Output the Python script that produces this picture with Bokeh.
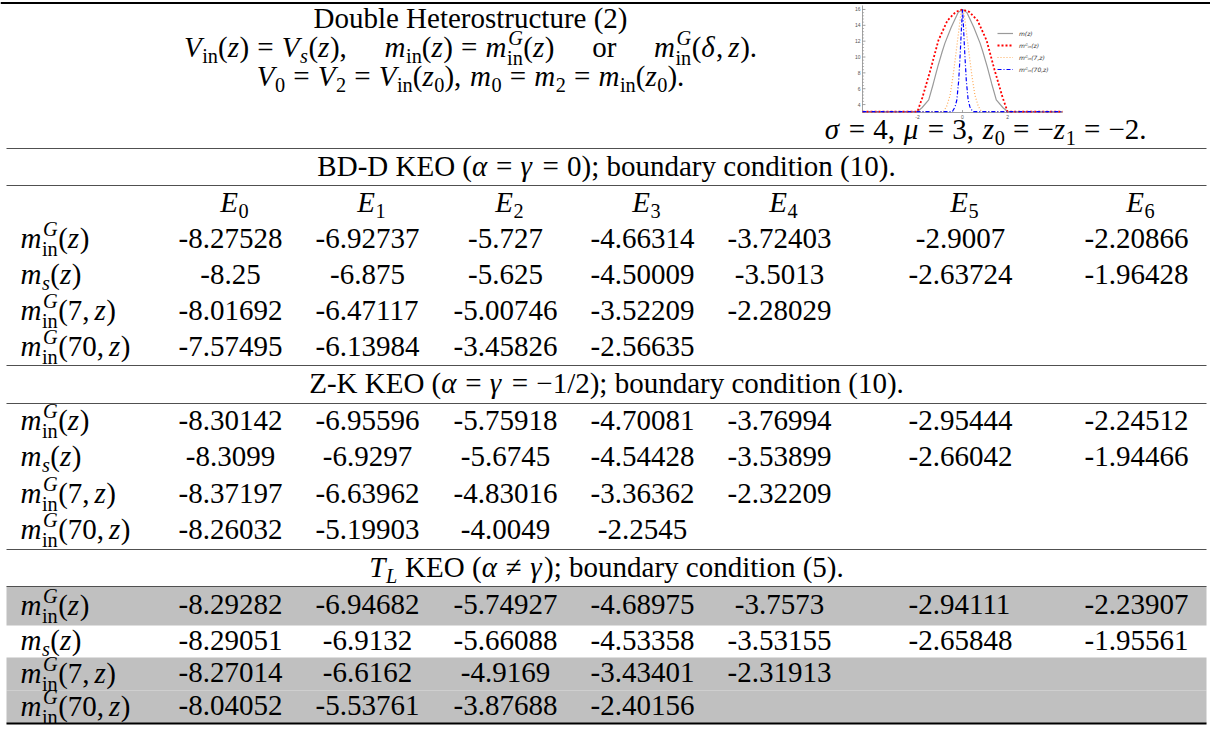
from bokeh.plotting import figure
from bokeh.models import Range1d, ColumnDataSource, Legend, LegendItem
from bokeh.core.properties import value, field
from bokeh.embed import file_html
from bokeh.resources import INLINE

# ----------------------------- data -----------------------------
energy_levels = ["0", "1", "2", "3", "4", "5", "6"]
row_labels = ["m^G_in(z)", "m_s(z)", "m^G_in(7, z)", "m^G_in(70, z)"]

bdd_mG = [-8.27528, -6.92737, -5.727, -4.66314, -3.72403, -2.9007, -2.20866]
bdd_ms = [-8.25, -6.875, -5.625, -4.50009, -3.5013, -2.63724, -1.96428]
bdd_mG7 = [-8.01692, -6.47117, -5.00746, -3.52209, -2.28029]
bdd_mG70 = [-7.57495, -6.13984, -3.45826, -2.56635]

zk_mG = [-8.30142, -6.95596, -5.75918, -4.70081, -3.76994, -2.95444, -2.24512]
zk_ms = [-8.3099, -6.9297, -5.6745, -4.54428, -3.53899, -2.66042, -1.94466]
zk_mG7 = [-8.37197, -6.63962, -4.83016, -3.36362, -2.32209]
zk_mG70 = [-8.26032, -5.19903, -4.0049, -2.2545]

tl_mG = [-8.29282, -6.94682, -5.74927, -4.68975, -3.7573, -2.94111, -2.23907]
tl_ms = [-8.29051, -6.9132, -5.66088, -4.53358, -3.53155, -2.65848, -1.95561]
tl_mG7 = [-8.27014, -6.6162, -4.9169, -3.43401, -2.31913]
tl_mG70 = [-8.04052, -5.53761, -3.87688, -2.40156]

tl_shaded = [True, False, True, True]

# inset curves (z, m)
gray_z = [-4.44, -2.0, -1.8, -1.5, -1.3, -1.1, -0.9, -0.78, -0.5, -0.2, 0.0,
          0.2, 0.5, 0.78, 0.9, 1.1, 1.3, 1.5, 1.8, 2.0, 4.44]
gray_m = [3.12, 3.12, 3.6, 4.6, 6.6, 8.75, 10.7, 11.75, 13.75, 15.6, 16.0,
          15.6, 13.75, 11.75, 10.7, 8.75, 6.6, 4.6, 3.6, 3.12, 3.12]
red_z = [-4.44, -2.0, -1.78, -1.42, -1.07, -0.67, -0.3, 0.0,
         0.3, 0.67, 1.07, 1.42, 1.78, 2.0, 4.44]
red_m = [3.12, 3.12, 4.9, 8.4, 12.1, 14.6, 15.7, 16.0,
         15.7, 14.6, 12.1, 8.4, 4.9, 3.12, 3.12]
orange_z = [-4.44, -0.84, -0.7, -0.55, -0.42, -0.31, -0.18, -0.08, 0.0,
            0.08, 0.18, 0.31, 0.42, 0.55, 0.7, 0.84, 4.44]
orange_m = [3.12, 3.12, 3.8, 5.2, 7.6, 10.0, 13.0, 15.3, 16.0,
            15.3, 13.0, 10.0, 7.6, 5.2, 3.8, 3.12, 3.12]
blue_z = [-4.44, -0.45, -0.33, -0.25, -0.17, -0.1, -0.04, 0.0,
          0.04, 0.1, 0.17, 0.25, 0.33, 0.45, 4.44]
blue_m = [3.12, 3.12, 3.7, 4.6, 7.0, 10.5, 14.0, 16.0,
          14.0, 10.5, 7.0, 4.6, 3.7, 3.12, 3.12]
inset_yticks = [4, 6, 8, 10, 12, 14, 16]
inset_xticks = [-2, 0, 2]
legend_labels = ["m(z)", "mᴳᵢₙ(z)", "mᴳᵢₙ(7,z)", "mᴳᵢₙ(70,z)"]

# ----------------------------- text layout helpers -----------------------------
REG = {' ': .25, '(': .333, ')': .333, ',': .25, '.': .25, '-': .333, '=': .564, '−': .564,
       '≠': .564, ';': .278, '/': .278,
       'a': .444, 'b': .5, 'c': .444, 'd': .5, 'e': .444, 'f': .333, 'g': .5, 'h': .5, 'i': .278,
       'j': .278, 'k': .5, 'l': .278, 'm': .778, 'n': .5, 'o': .5, 'p': .5, 'q': .5, 'r': .333,
       's': .389, 't': .278, 'u': .5, 'v': .5, 'w': .722, 'x': .5, 'y': .5, 'z': .444,
       'B': .667, 'D': .722, 'E': .611, 'H': .722, 'K': .722, 'O': .722, 'Z': .611, 'L': .611,
       'T': .611, 'V': .722, 'G': .722}
IT = {'m': .74, 'z': .41, 's': .41, 'i': .278, 'n': .5, 'E': .63, 'V': .63, 'G': .74,
      'T': .58, 'L': .58, 'α': .55, 'γ': .48, 'σ': .55, 'μ': .55, 'δ': .51}

FS = 29
SERIF = "Liberation Serif"
K_SHIFT = 0.38   # rendered glyphs sit this much (per px of size) below the requested baseline


def seg_width(txt, italic):
    tbl = IT if italic else REG
    return sum(tbl.get(c, 0.5) for c in txt)


texts = dict(x=[], y=[], text=[], size=[], style=[])


def put(segs, x, yc, fs=FS, align="left"):
    """Lay out math-like segments; yc is the visual centre of the main line."""
    items = []
    cx = 0.0
    for s in segs:
        k = s[0]
        if k in ("r", "i"):
            it = k == "i"
            items.append((cx, 0.0, s[1], fs, it))
            cx += seg_width(s[1], it) * fs
        elif k == "sp":
            cx += s[1] * fs
        elif k == "sub":
            it = s[2]
            sz = 0.7 * fs
            items.append((cx, 0.2 * fs, s[1], sz, it))
            cx += seg_width(s[1], it) * sz
        elif k == "ss":
            sz = 0.7 * fs
            items.append((cx + 0.04 * fs, -0.42 * fs, s[1], sz, True))
            items.append((cx, 0.27 * fs, s[2], sz, False))
            cx += max(seg_width(s[1], True) * sz + 0.04 * fs, seg_width(s[2], False) * sz)
    if align == "center":
        x0 = x - cx / 2
    elif align == "right":
        x0 = x - cx
    else:
        x0 = x
    base = yc + 0.34 * fs
    for dx, dy, t, sz, it in items:
        texts["x"].append(x0 + dx)
        texts["y"].append(base + dy - K_SHIFT * sz)
        texts["text"].append(t)
        texts["size"].append(f"{sz:.1f}px")
        texts["style"].append("italic" if it else "normal")


EQ = [("sp", 0.28), ("r", "="), ("sp", 0.28)]
LABEL_SEGS = {
    "m^G_in(z)": [("i", "m"), ("ss", "G", "in"), ("r", "("), ("i", "z"), ("r", ")")],
    "m_s(z)": [("i", "m"), ("sub", "s", True), ("r", "("), ("i", "z"), ("r", ")")],
    "m^G_in(7, z)": [("i", "m"), ("ss", "G", "in"), ("r", "(7,"), ("sp", 0.17), ("i", "z"), ("r", ")")],
    "m^G_in(70, z)": [("i", "m"), ("ss", "G", "in"), ("r", "(70,"), ("sp", 0.17), ("i", "z"), ("r", ")")],
}

# ----------------------------- layout positions -----------------------------
LEFT, RIGHT = 6, 1206
LABEL_X = 20
COL_X = [230, 367, 505, 642, 779, 960, 1136]
TITLE_X = 470

p = figure(width=1210, height=734, output_backend="svg", toolbar_location=None,
           x_range=Range1d(0, 1210), y_range=Range1d(734, 0), min_border=0,
           x_axis_location=None, y_axis_location=None)
p.grid.visible = False
p.outline_line_color = None
p.background_fill_color = "white"
p.border_fill_color = "white"

# ---- title block ----
QUAD = 1.3
put([("r", "Double Heterostructure (2)")], TITLE_X, 19, align="center")
line2 = ([("i", "V"), ("sub", "in", False), ("r", "("), ("i", "z"), ("r", ")")] + EQ +
         [("i", "V"), ("sub", "s", True), ("r", "("), ("i", "z"), ("r", "),"), ("sp", QUAD),
          ("i", "m"), ("sub", "in", False), ("r", "("), ("i", "z"), ("r", ")")] + EQ +
         [("i", "m"), ("ss", "G", "in"), ("r", "("), ("i", "z"), ("r", ")"), ("sp", QUAD),
          ("r", "or"), ("sp", QUAD),
          ("i", "m"), ("ss", "G", "in"), ("r", "("), ("i", "δ"), ("r", ","), ("sp", 0.17),
          ("i", "z"), ("r", ").")])
put(line2, TITLE_X, 48, align="center")
line3 = ([("i", "V"), ("sub", "0", False)] + EQ + [("i", "V"), ("sub", "2", False)] + EQ +
         [("i", "V"), ("sub", "in", False), ("r", "("), ("i", "z"), ("sub", "0", False), ("r", "),"),
          ("sp", 0.3), ("i", "m"), ("sub", "0", False)] + EQ + [("i", "m"), ("sub", "2", False)] + EQ +
         [("i", "m"), ("sub", "in", False), ("r", "("), ("i", "z"), ("sub", "0", False), ("r", ").")])
put(line3, TITLE_X, 77, align="center")
sig = ([("i", "σ")] + EQ + [("r", "4,"), ("sp", 0.3), ("i", "μ")] + EQ + [("r", "3,"), ("sp", 0.3),
       ("i", "z"), ("sub", "0", False)] + EQ + [("r", "−"), ("i", "z"), ("sub", "1", False)] + EQ +
       [("r", "−2.")])
put(sig, 1146, 130, align="right")

# ---- section headers ----
hdr_bdd = [("r", "BD-D KEO ("), ("i", "α")] + EQ + [("i", "γ")] + EQ + [("r", "0); boundary condition (10).")]
hdr_zk = [("r", "Z-K KEO ("), ("i", "α")] + EQ + [("i", "γ")] + EQ + [("r", "−1/2); boundary condition (10).")]
hdr_tl = [("i", "T"), ("sub", "L", True), ("sp", 0.25), ("r", "KEO ("), ("i", "α"), ("sp", 0.28), ("r", "≠"),
          ("sp", 0.28), ("i", "γ"), ("r", "); boundary condition (5).")]
MID = (LEFT + RIGHT) / 2
put(hdr_bdd, MID, 166.5, align="center")
put(hdr_zk, MID, 384, align="center")
put(hdr_tl, MID, 567.5, align="center")

# ---- E header row ----
for j, k in enumerate(energy_levels):
    put([("i", "E"), ("sub", k, False)], COL_X[j] + 4, 203, align="center")

# ---- data rows ----
sections = [
    ([bdd_mG, bdd_ms, bdd_mG7, bdd_mG70], [239, 275, 311, 347]),
    ([zk_mG, zk_ms, zk_mG7, zk_mG70], [421, 457, 494, 530]),
    ([tl_mG, tl_ms, tl_mG7, tl_mG70], [605.5, 641, 673.5, 706.5]),
]
tl_edges = [586, 625, 657, 690, 723]

# shaded bands (T_L section)
band_top, band_bot = [], []
for i, sh in enumerate(tl_shaded):
    if sh:
        band_top.append(tl_edges[i])
        band_bot.append(tl_edges[i + 1])
p.quad(left=LEFT, right=RIGHT, top=band_top, bottom=band_bot, fill_color="#c0c0c0", line_color=None)

for rows, ys in sections:
    for lab, vals, yc in zip(row_labels, rows, ys):
        put(LABEL_SEGS[lab], LABEL_X, yc)
        for j, v in enumerate(vals):
            put([("r", str(v))], COL_X[j], yc, align="center")

# ---- rules ----
thin_y = [148, 185, 365, 403, 549, 586]
p.segment(x0=LEFT, x1=RIGHT, y0=thin_y, y1=thin_y, line_color="#505050", line_width=1.2)
p.segment(x0=0, x1=1210, y0=[2.5], y1=[2.5], line_color="black", line_width=2)
p.segment(x0=LEFT, x1=RIGHT, y0=[723], y1=[723], line_color="black", line_width=2)

src = ColumnDataSource(texts)
p.text(x="x", y="y", text="text", source=src, text_font=value(SERIF),
       text_font_size=field("size"), text_font_style=field("style"),
       text_align="left", text_baseline="alphabetic", text_color="black")

# ----------------------------- inset plot -----------------------------
xs = Range1d(-4.44, 4.44)
ys_ = Range1d(3.0, 16.5)
inset = p.subplot(x_source=xs, y_source=ys_,
                  x_target=Range1d(862, 1062), y_target=Range1d(112, 5))

inset.line(x=[xs.start, xs.start], y=[ys_.start, ys_.end], line_color="#8a8a8a", line_width=0.8)
inset.line(x=[xs.start, xs.end], y=[ys_.start, ys_.start], line_color="#8a8a8a", line_width=0.8)
minor = [t + d for t in inset_yticks[:-1] for d in (0.4, 0.8, 1.2, 1.6)]
inset.segment(x0=[xs.start] * len(minor), x1=[xs.start + 0.07] * len(minor), y0=minor, y1=minor,
              line_color="#8a8a8a", line_width=0.6)
inset.segment(x0=[xs.start] * len(inset_yticks), x1=[xs.start + 0.13] * len(inset_yticks),
              y0=inset_yticks, y1=inset_yticks, line_color="#8a8a8a", line_width=0.8)
inset.text(x=[xs.start] * len(inset_yticks), y=inset_yticks, text=[str(t) for t in inset_yticks],
           x_offset=-2, text_align="right", text_baseline="middle", text_font=value("Liberation Sans"),
           text_font_size="5px", text_color="#555555")
inset.segment(x0=inset_xticks, x1=inset_xticks, y0=[ys_.start] * 3, y1=[ys_.start + 0.3] * 3,
              line_color="#8a8a8a", line_width=0.8)
inset.text(x=inset_xticks, y=[ys_.start] * 3, text=[str(t) for t in inset_xticks], y_offset=2,
           text_align="center", text_baseline="top", text_font=value("Liberation Sans"),
           text_font_size="5px", text_color="#555555")

r_gray = inset.line(gray_z, gray_m, line_color="#9a9a9a", line_width=1.2)
r_red = inset.line(red_z, red_m, line_color="#ff0000", line_width=1.8, line_dash="2 2")
r_orange = inset.line(orange_z, orange_m, line_color="#ffad5c", line_width=1.2, line_dash="1 2")
r_blue = inset.line(blue_z, blue_m, line_color="#0000ff", line_width=1.2, line_dash="4 2 1 2")

legend = Legend(items=[LegendItem(label=lab, renderers=[r]) for lab, r in
                       zip(legend_labels, [r_gray, r_red, r_orange, r_blue])],
                location=(997, 660), orientation="vertical", glyph_width=16, glyph_height=10,
                label_height=10, spacing=2, padding=0, margin=0, label_standoff=6,
                label_text_font="DejaVu Sans", label_text_font_size="6px",
                label_text_line_height=1.0,
                label_text_font_style="italic", label_text_color="#333333",
                border_line_alpha=0, background_fill_alpha=0)
p.add_layout(legend)

open("out.html", "w").write(file_html(p, INLINE, title="Double Heterostructure (2)"))
